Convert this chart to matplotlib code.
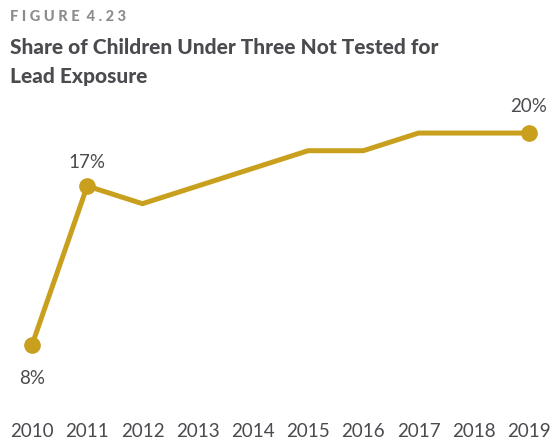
import matplotlib.pyplot as plt

# dados
anos = [2010, 2011, 2012, 2013, 2014, 2015, 2016, 2017, 2018, 2019]
valores = [8, 17, 16, 17, 18, 19, 19, 20, 20, 20]
anos_rotulo = [2010, 2011, 2019]
rotulos = ["8%", "17%", "20%"]
deslocamentos = [(0, -24), (0, 17), (0, 19)]

ouro = "#C9A01E"
cinza_texto = "#4A4A4F"

plt.rcParams['font.family'] = ['Lato', 'DejaVu Sans']

fig = plt.figure(figsize=(5.5, 4.42), dpi=100)
ax = fig.add_axes([32 / 550, 0.0596, (529 - 32) / 550, 0.699 - 0.0596])

ax.plot(anos, valores, color=ouro, linewidth=3.6, solid_joinstyle='miter', clip_on=False)
ax.plot(anos_rotulo, [valores[anos.index(a)] for a in anos_rotulo], 'o',
        color=ouro, markersize=11, clip_on=False)

for a, r, d in zip(anos_rotulo, rotulos, deslocamentos):
    ax.annotate(r, (a, valores[anos.index(a)]), xytext=d, textcoords='offset points',
                ha='center', va='center', fontsize=13.5, color=cinza_texto)

ax.set_xlim(2010, 2019)
ax.set_ylim(4, 20)
ax.set_xticks(anos)
ax.set_xticklabels([str(a) for a in anos], fontsize=13.5, color=cinza_texto)
ax.set_yticks([])
ax.tick_params(axis='x', length=0, pad=5)
for s in ax.spines.values():
    s.set_visible(False)

fig.text(10 / 550, 1 - 17 / 442, "F I G U R E  4 . 2 3", fontsize=10.5, fontweight='black',
         color="#8C8C8C", va='center', ha='left')
fig.text(10 / 550, 1 - 47 / 442, "Share of Children Under Three Not Tested for",
         fontsize=15, fontweight='black', color=cinza_texto, va='center', ha='left')
fig.text(10 / 550, 1 - 77 / 442, "Lead Exposure",
         fontsize=15, fontweight='black', color=cinza_texto, va='center', ha='left')

fig.savefig("out.png", dpi=100)
